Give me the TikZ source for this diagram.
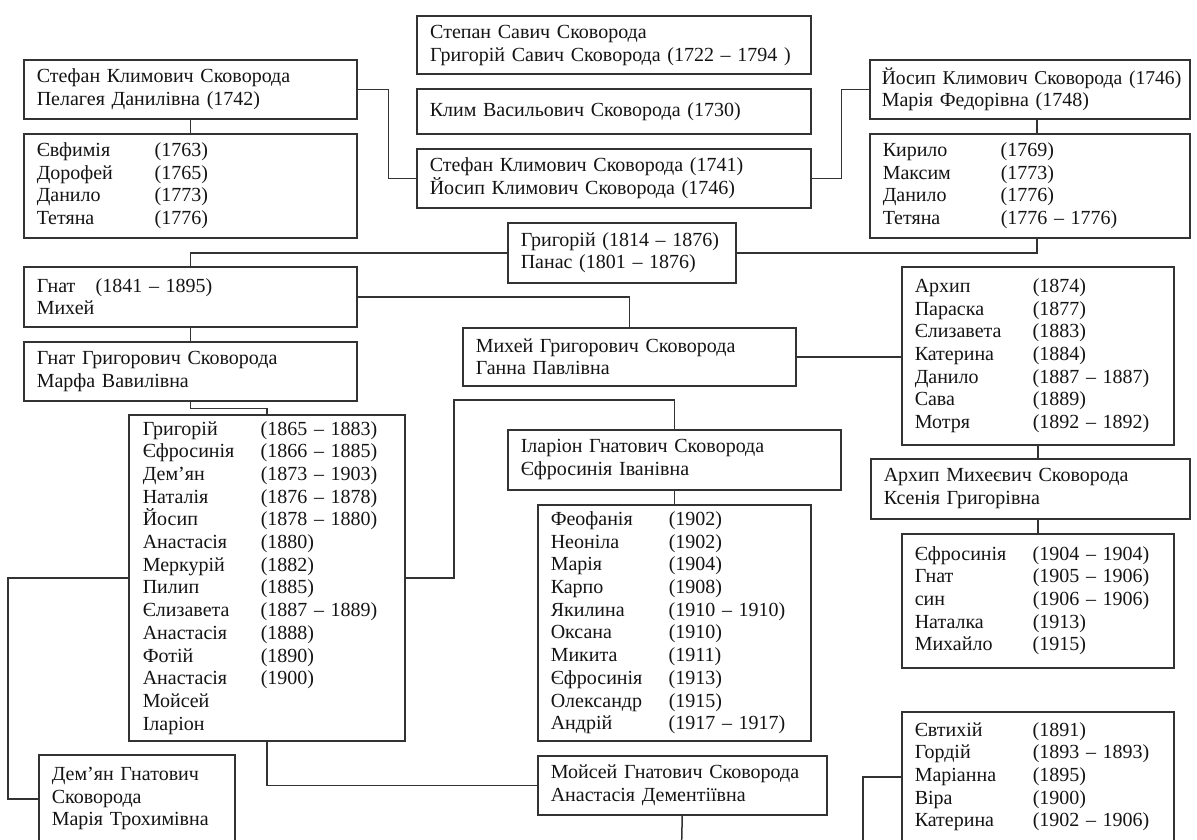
\documentclass[tikz,border=0pt]{standalone}
\usepackage{fontspec}
\setmainfont{Liberation Serif}
\definecolor{linec}{HTML}{333333}
\definecolor{textc}{HTML}{141414}
\newcommand{\kid}[2]{\makebox[118pt][l]{#1}#2}
\begin{document}
\begin{tikzpicture}[x=1pt,y=-1pt,
  box/.style={draw=linec, line width=1.5pt, rectangle, anchor=north west,
    inner xsep=13pt, inner ysep=0pt, align=left,
    font=\fontsize{20}{22.7}\selectfont, text=textc},
  conn/.style={draw=linec, line width=1.5pt}]
\clip (0,0) rectangle (1197,839);
\fill[white] (0,0) rectangle (1197,839);

% top column
\node[box, line width=2.4pt, minimum width=394pt, minimum height=58pt, text width=368pt] (top) at (416,15)
  {Степан Савич Сковорода\\Григорій Савич Сковорода (1722 – 1794 )};
\node[box, minimum width=394pt, minimum height=45pt, text width=368pt] (klym) at (416,88)
  {Клим Васильович Сковорода (1730)};
\node[box, minimum width=394pt, minimum height=59pt, text width=368pt] (sk) at (416,148)
  {Стефан Климович Сковорода (1741)\\Йосип Климович Сковорода (1746)};

% left top
\node[box, minimum width=333pt, minimum height=59pt, text width=307pt] (stefan) at (23,59)
  {Стефан Климович Сковорода\\Пелагея Данилівна (1742)};
\node[box, minimum width=333pt, minimum height=104pt, text width=307pt] (stefkids) at (23,133)
  {\kid{Євфимія}{(1763)}\\\kid{Дорофей}{(1765)}\\\kid{Данило}{(1773)}\\\kid{Тетяна}{(1776)}};

% right top
\node[box, minimum width=320pt, minimum height=59pt, text width=296pt, inner xsep=12pt] (yosyp) at (869,59)
  {\mbox{\fontsize{19.6}{22.7}\selectfont Йосип Климович Сковорода (1746)}\\Марія Федорівна (1748)};
\node[box, minimum width=320pt, minimum height=104pt, text width=294pt] (yoskids) at (869,133)
  {\kid{Кирило}{(1769)}\\\kid{Максим}{(1773)}\\\kid{Данило}{(1776)}\\\kid{Тетяна}{(1776 – 1776)}};

% middle
\node[box, minimum width=228pt, minimum height=60pt, text width=202pt] (hryh) at (507,222)
  {Григорій (1814 – 1876)\\Панас (1801 – 1876)};
\node[box, minimum width=333pt, minimum height=60pt, text width=307pt] (hnat) at (23,266)
  {\makebox[59pt][l]{Гнат}(1841 – 1895)\\Михей};
\node[box, minimum width=333pt, minimum height=59pt, text width=307pt] (hnatH) at (23,341)
  {Гнат Григорович Сковорода\\Марфа Вавилівна};
\node[box, minimum width=333pt, minimum height=58pt, text width=307pt] (mykhei) at (462,327)
  {Михей Григорович Сковорода\\Ганна Павлівна};

\node[box, minimum width=274pt, minimum height=326pt, text width=248pt, inner xsep=14pt] (bigkids) at (128,414)
  {\kid{Григорій}{(1865 – 1883)}\\\kid{Єфросинія}{(1866 – 1885)}\\\kid{Дем’ян}{(1873 – 1903)}\\
   \kid{Наталія}{(1876 – 1878)}\\\kid{Йосип}{(1878 – 1880)}\\\kid{Анастасія}{(1880)}\\
   \kid{Меркурій}{(1882)}\\\kid{Пилип}{(1885)}\\\kid{Єлизавета}{(1887 – 1889)}\\
   \kid{Анастасія}{(1888)}\\\kid{Фотій}{(1890)}\\\kid{Анастасія}{(1900)}\\Мойсей\\Іларіон};

\node[box, minimum width=272pt, minimum height=178pt, text width=246pt] (arkhkids) at (901,266)
  {\kid{Архип}{(1874)}\\\kid{Параска}{(1877)}\\\kid{Єлизавета}{(1883)}\\\kid{Катерина}{(1884)}\\
   \kid{Данило}{(1887 – 1887)}\\\kid{Сава}{(1889)}\\\kid{Мотря}{(1892 – 1892)}};
\node[box, minimum width=319pt, minimum height=60pt, text width=293pt] (arkhM) at (870,458)
  {Архип Михеєвич Сковорода\\Ксенія Григорівна};
\node[box, minimum width=272pt, minimum height=134pt, text width=246pt] (arkhMkids) at (901,533)
  {\kid{Єфросинія}{(1904 – 1904)}\\\kid{Гнат}{(1905 – 1906)}\\\kid{син}{(1906 – 1906)}\\
   \kid{Наталка}{(1913)}\\\kid{Михайло}{(1915)}};

\node[box, minimum width=333pt, minimum height=60pt, text width=307pt] (ilar) at (507,429)
  {Іларіон Гнатович Сковорода\\Єфросинія Іванівна};
\node[box, minimum width=273pt, minimum height=236pt, text width=247pt] (ilarkids) at (537,504)
  {\kid{Феофанія}{(1902)}\\\kid{Неоніла}{(1902)}\\\kid{Марія}{(1904)}\\\kid{Карпо}{(1908)}\\
   \kid{Якилина}{(1910 – 1910)}\\\kid{Оксана}{(1910)}\\\kid{Микита}{(1911)}\\
   \kid{Єфросинія}{(1913)}\\\kid{Олександр}{(1915)}\\\kid{Андрій}{(1917 – 1917)}};
\node[box, minimum width=289pt, minimum height=59pt, text width=263pt] (moisei) at (537,755)
  {Мойсей Гнатович Сковорода\\Анастасія Дементіївна};

\node[box, minimum width=196pt, minimum height=88pt, text width=170pt] (demian) at (38,754)
  {Дем’ян Гнатович\\Сковорода\\Марія Трохимівна};
\node[box, minimum width=272pt, minimum height=130pt, text width=246pt] (yevt) at (901,711)
  {\kid{Євтихій}{(1891)}\\\kid{Гордій}{(1893 – 1893)}\\\kid{Маріанна}{(1895)}\\
   \kid{Віра}{(1900)}\\\kid{Катерина}{(1902 – 1906)}};

\coordinate (bend1) at (454,400);
\coordinate (mend) at (681.5,850);
\coordinate (yend) at (863,850);

% connectors
\draw[conn] (stefan.south) -- (stefkids.north);
\draw[conn] (stefan.east) -- ++(31,0) |- (sk.west);
\draw[conn] (sk.east) -- ++(30,0) |- (yosyp.west);
\draw[conn] ([xshift=168pt]yosyp.south west) -- ([xshift=168pt]yoskids.north west);
\draw[conn] ([xshift=168pt]yoskids.south west) |- (hryh.east);
\draw[conn] (hryh.west) -| (hnat.north);
\draw[conn] (hnat.east) -| (mykhei.north);
\draw[conn] (hnat.south) -- (hnatH.north);
\draw[conn] (hnatH.south) -- ++(0,7) -| (bigkids.north);
\draw[conn] (mykhei.east) -- (mykhei.east -| arkhkids.west);
\draw[conn] (arkhkids.south) -- (arkhkids.south |- arkhM.north);
\draw[conn] (arkhMkids.north |- arkhM.south) -- (arkhMkids.north);
\draw[conn] (bigkids.west) -- ++(-120,0) |- (demian.west);
\draw[conn] (bigkids.east) -| (bend1) -| (ilar.north);
\draw[conn] (ilar.south) -- (ilarkids.north);
\draw[conn] (bigkids.south) |- (moisei.west);
\draw[conn] (moisei.south) -- (mend);
\draw[conn] (yevt.west) -| (yend);
\end{tikzpicture}
\end{document}
